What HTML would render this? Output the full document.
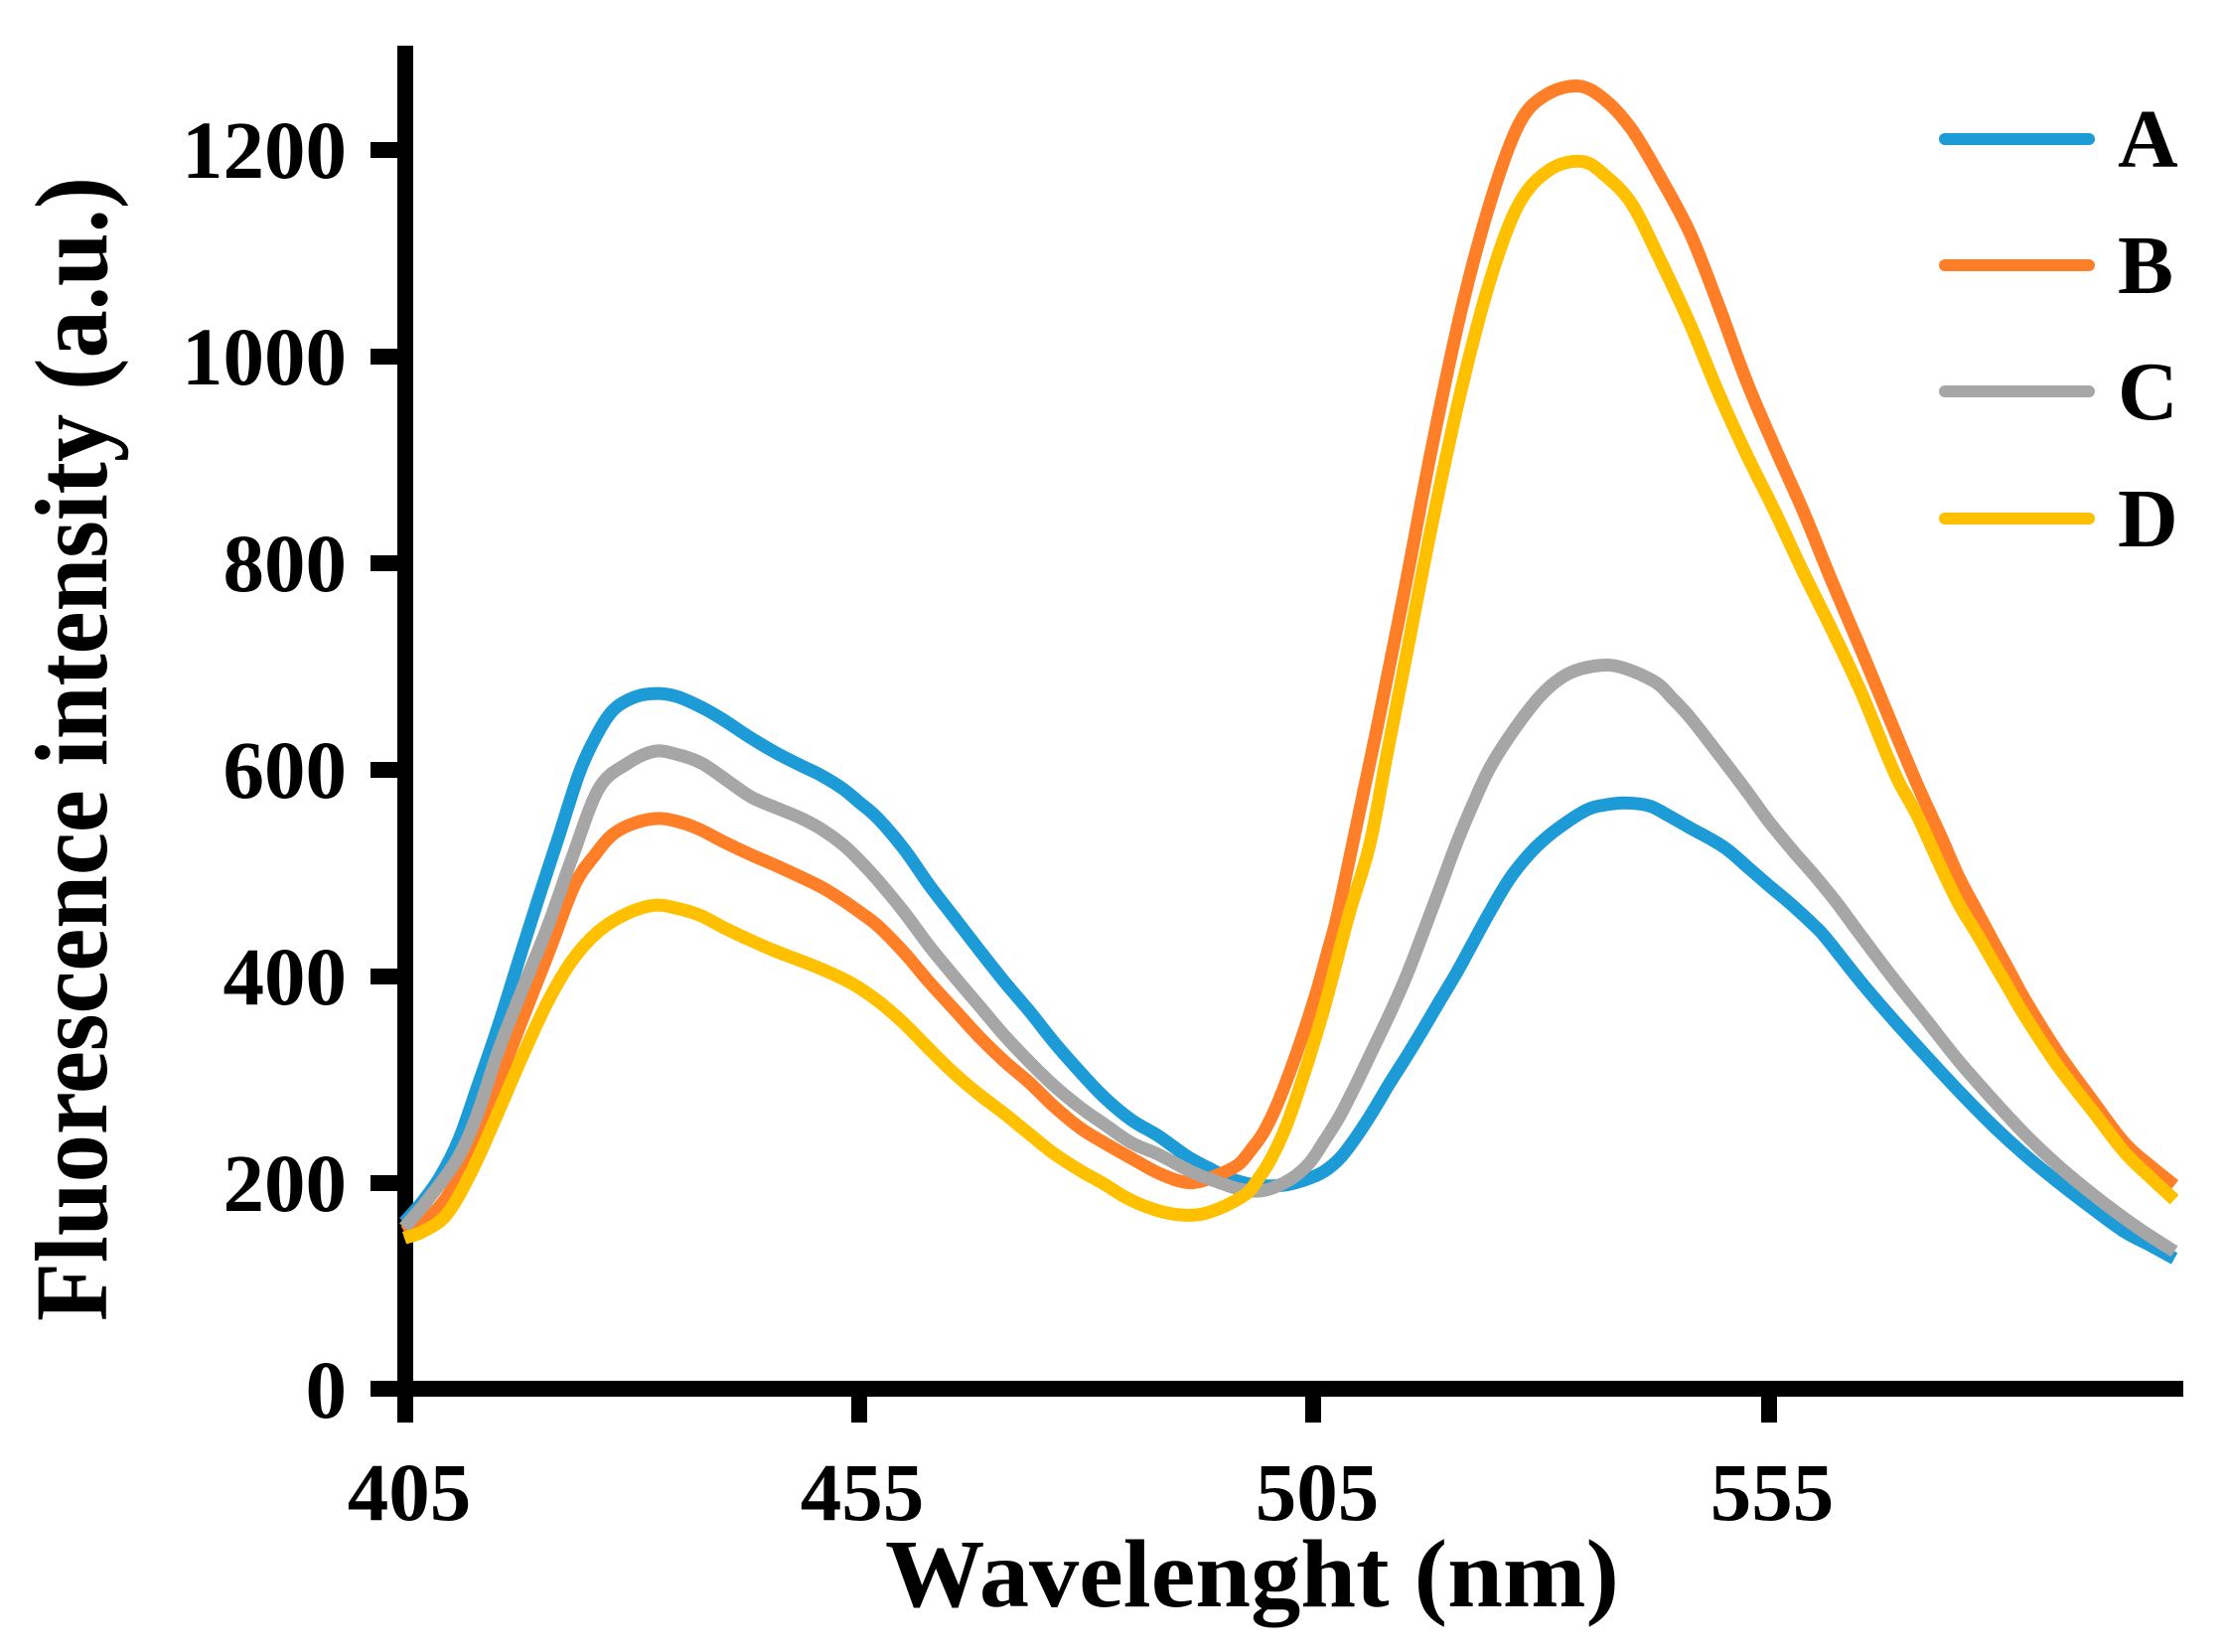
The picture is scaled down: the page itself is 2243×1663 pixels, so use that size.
<!DOCTYPE html>
<html>
<head>
<meta charset="utf-8">
<style>
  html,body{margin:0;padding:0;background:#fff;}
  svg{display:block;}
  text{font-family:"Liberation Serif","Times New Roman",serif;font-weight:bold;fill:#000;}
</style>
</head>
<body>
<svg width="2243" height="1663" viewBox="0 0 2243 1663" xmlns="http://www.w3.org/2000/svg">
  <rect x="0" y="0" width="2243" height="1663" fill="#fff"/>

  <!-- Axes -->
  <rect x="400" y="46" width="16" height="1360" fill="#000"/>
  <rect x="400" y="1390" width="1798" height="16" fill="#000"/>

  <!-- Y ticks -->
  <g fill="#000">
    <rect x="373" y="143" width="27" height="16"/>
    <rect x="373" y="351" width="27" height="16"/>
    <rect x="373" y="559" width="27" height="16"/>
    <rect x="373" y="767" width="27" height="16"/>
    <rect x="373" y="975" width="27" height="16"/>
    <rect x="373" y="1183" width="27" height="16"/>
    <rect x="373" y="1390" width="27" height="16"/>
  </g>
  <!-- X ticks -->
  <g fill="#000">
    <rect x="400" y="1406" width="16" height="26"/>
    <rect x="857" y="1406" width="16" height="26"/>
    <rect x="1314" y="1406" width="16" height="26"/>
    <rect x="1773" y="1406" width="16" height="26"/>
  </g>

  <!-- Y tick labels -->
  <g font-size="83" text-anchor="end">
    <text x="349" y="179">1200</text>
    <text x="349" y="387">1000</text>
    <text x="349" y="595">800</text>
    <text x="349" y="803">600</text>
    <text x="349" y="1011">400</text>
    <text x="349" y="1219">200</text>
    <text x="349" y="1427">0</text>
  </g>
  <!-- X tick labels -->
  <g font-size="83" text-anchor="middle">
    <text x="412" y="1530">405</text>
    <text x="868" y="1530">455</text>
    <text x="1326" y="1530">505</text>
    <text x="1784" y="1530">555</text>
  </g>

  <!-- Axis titles -->
  <text x="891" y="1617" font-size="98" textLength="739" lengthAdjust="spacingAndGlyphs">Wavelenght (nm)</text>
  <text transform="translate(107,1330) rotate(-90)" x="0" y="0" font-size="104" textLength="1152" lengthAdjust="spacingAndGlyphs">Fluorescence intensity (a.u.)</text>

  <!-- Series (fallback polylines, data coordinates: nm, a.u.) -->
  <g id="rawseries" transform="matrix(9.153 0 0 -1.04 -3299.97 1398)" fill="none" stroke-width="13" stroke-linejoin="round" stroke-linecap="butt">
    <polyline id="sA" vector-effect="non-scaling-stroke" stroke="#1d9bd7" points="405,161 407,181 409,206 411,241 413,291 415.3,350 417.5,412 419.7,473 422,535 424.2,595 426,630 428,657 430.5,670 432.9,673 435,670 437.6,660 440,648 443.1,630 446,615 448.7,603 451,593 453.2,581 455,568 457.1,552 460,522 462.7,488 465.5,456 468.3,424 471,394 473.8,365 476.5,335 479.4,306 482,282 485,260 487.9,245 491.1,225 493.4,214 496,203 498.8,197 501.7,197 504,202 506.1,210 508,224 509.8,245 511.5,268 513.4,296 515.2,321 517,347 518.8,374 520.7,402 522.5,431 524.3,460 526.3,490 528,510 529.8,527 532,543 535,560 537,565 539.5,567 542,564 544,555 546.4,543 548.5,533 550.5,522 553,503 555.1,487 557.8,467 560,449 561.4,436 565.1,395 568.7,358 572.4,322 576,288 579.7,255 583.3,226 586.9,200 590.6,175 594.2,152 597,139 599.7,126"/>
    <polyline id="sB" vector-effect="non-scaling-stroke" stroke="#fe7f27" points="405,152 408,168 411,205 414.5,278 418.1,360 421,425 423.7,487 426,517 428,537 430.5,548 433.1,552 435.5,548 437.6,541 440,530 443.1,517 446,506 448.7,495 451,485 453.2,473 455,462 457.1,448 460,422 462.7,394 465.5,367 468.3,340 471,317 473.8,296 476.5,273 479.4,252 482,238 485,223 487.9,209 490.8,200 492.7,201 494.5,207 496,213 497,219 498.2,232 499.5,248 501,275 502.5,309 504,347 505.4,386 506.5,421 507.6,457 509.3,527 512,640 515,772 518,910 521.2,1042 524.5,1150 527.6,1224 530.5,1252 534.1,1261 537,1248 540,1219 543,1175 546.4,1119 549.5,1050 552.6,976 555.7,912 558.9,849 562,782 565.2,716 568.3,650 571.4,585 574,535 576,495 578,462 579.7,434 581.5,405 583.3,376 586.9,325 590.6,280 594.2,238 597,216 599.7,197"/>
    <polyline id="sC" vector-effect="non-scaling-stroke" stroke="#a6a6a6" points="405,156 407.5,182 410.8,222 413,265 415.3,326 418,387 420.8,448 423.5,515 426.4,581 429.5,605 432.5,617 435,614 437.6,606 440,592 443.1,573 446,562 448.7,552 451,541 453.2,527 455,512 457.1,492 460,461 462.7,429 465.5,399 468.3,370 471,342 473.8,316 476.5,293 479.4,272 482,256 485,238 487.9,227 491.6,210 494.5,200 497,193 499.6,192 502.5,203 504.6,219 506.2,240 507.9,264 509.7,295 511.5,328 513.4,363 515.2,399 517,440 518.8,482 520.7,527 522.5,565 524.4,601 527,637 530.1,672 533,692 536.3,700 539,698 542.6,684 544.5,668 546.4,650 549.5,615 552.6,579 555,550 557.8,520 560,498 562.5,471 565.1,440 568.7,398 572.4,357 576,317 579.7,280 583.3,246 586.9,216 590.6,189 594.2,165 597,148 599.7,133"/>
    <polyline id="sD" vector-effect="non-scaling-stroke" stroke="#ffc000" points="405,146 407,152 409.7,169 412.5,212 415.3,267 418,322 420.8,375 423.5,415 426.4,443 429.5,460 432.5,468 435,465 437.6,458 440,447 443.1,434 446,423 448.7,414 451.5,404 454.3,392 457,376 459.8,355 462.5,331 465.4,306 468.2,285 470.9,267 473.7,247 476.4,228 479.2,212 482,198 484,187 486.1,178 488.5,171 490.8,168 492.7,169 494.5,174 496.2,181 497.8,190 499,204 500.3,222 501.8,250 503.2,284 504.7,325 506.1,366 507.5,412 509,462 511.2,527 513,610 515,700 518,835 521.2,965 524.5,1075 527.6,1147 531,1180 534.5,1188 537,1175 540,1147 543,1095 546.4,1031 549.5,965 552.6,905 555.7,850 558.9,790 562,735 565.2,675 568,615 569.4,587 571.4,555 574,505 576,469 578,440 579.7,414 581.5,387 583.3,360 586.9,312 590.6,270 594.2,229 597,205 599.7,183"/>
  </g>
  <g id="smooth" fill="none" stroke-width="13" stroke-linejoin="round" stroke-linecap="butt"></g>

  <!-- Legend -->
  <g stroke-width="12" stroke-linecap="round">
    <line x1="1958" y1="140" x2="2103" y2="140" stroke="#1d9bd7"/>
    <line x1="1958" y1="267" x2="2103" y2="267" stroke="#fe7f27"/>
    <line x1="1958" y1="394" x2="2103" y2="394" stroke="#a6a6a6"/>
    <line x1="1958" y1="522" x2="2103" y2="522" stroke="#ffc000"/>
  </g>
  <g font-size="84">
    <text x="2132" y="168">A</text>
    <text x="2132" y="295">B</text>
    <text x="2132" y="422">C</text>
    <text x="2132" y="550">D</text>
  </g>
</svg>
<script>
(function(){
  try{
    var ids=['sA','sB','sC','sD'];
    var host=document.getElementById('smooth');
    var ns='http://www.w3.org/2000/svg';
    ids.forEach(function(id){
      var pl=document.getElementById(id);
      var raw=pl.getAttribute('points').trim().split(/\s+/);
      var pts=raw.map(function(s){var a=s.split(',');return [9.153*parseFloat(a[0])-3299.97,1398-1.04*parseFloat(a[1])];});
      var f=function(v){return v.toFixed(2);};
      var d='M'+f(pts[0][0])+','+f(pts[0][1]);
      for(var i=0;i<pts.length-1;i++){
        var p0=pts[i-1]||pts[i],p1=pts[i],p2=pts[i+1],p3=pts[i+2]||pts[i+1];
        var c1x=p1[0]+(p2[0]-p0[0])/6,c1y=p1[1]+(p2[1]-p0[1])/6;
        var c2x=p2[0]-(p3[0]-p1[0])/6,c2y=p2[1]-(p3[1]-p1[1])/6;
        d+='C'+f(c1x)+','+f(c1y)+' '+f(c2x)+','+f(c2y)+' '+f(p2[0])+','+f(p2[1]);
      }
      var p=document.createElementNS(ns,'path');
      p.setAttribute('d',d);
      p.setAttribute('stroke',pl.getAttribute('stroke'));
      host.appendChild(p);
    });
    document.getElementById('rawseries').setAttribute('display','none');
  }catch(e){}
})();
</script>
</body>
</html>
